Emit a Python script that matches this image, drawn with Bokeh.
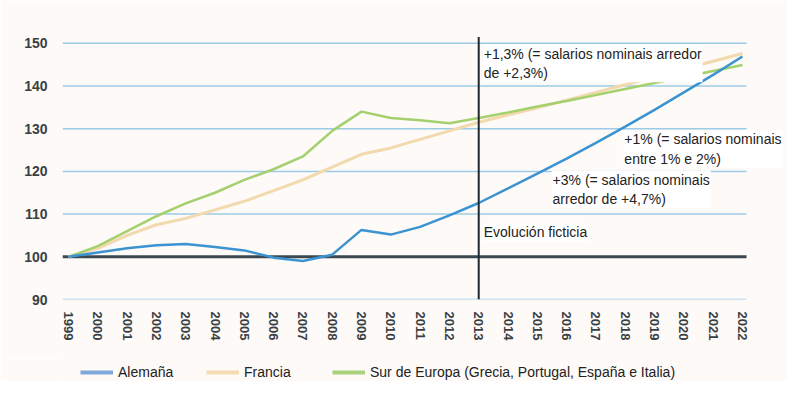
from bokeh.plotting import figure
from bokeh.models import (ColumnDataSource, Legend, LegendItem, Label, FixedTicker)
from bokeh.layouts import column
from bokeh.embed import file_html
from bokeh.resources import INLINE

years = list(range(1999, 2023))
alemana = [100, 101, 102, 102.7, 103, 102.3, 101.5, 99.8, 99, 100.5, 106.3, 105.2,
           107, 109.7, 112.6, 116.0, 119.5, 123.0, 126.7, 130.5, 134.4, 138.5, 142.6, 146.9]
francia = [100, 102, 105, 107.5, 109, 111, 113, 115.5, 118, 121, 124, 125.5,
           127.5, 129.5, 131.5, 133.2, 134.9, 136.7, 138.5, 140.3, 142.1, 144.0, 145.8, 147.6]
sur = [100, 102.5, 106, 109.5, 112.5, 115, 118, 120.5, 123.5, 129.5, 134, 132.5,
       132, 131.3, 132.5, 133.8, 135.2, 136.5, 137.9, 139.3, 140.7, 142.1, 143.5, 144.9]
y_ticks = [90, 100, 110, 120, 130, 140, 150]
grid_values = [90, 110, 120, 130, 140, 150]
base_value = 100
split_year = 2013
labels = ["Alemaña", "Francia", "Sur de Europa (Grecia, Portugal, España e Italia)"]
notes = [
    (2013, 149.6, "+1,3% (= salarios nominais arredor\nde +2,3%)"),
    (2017.8, 129.6, "+1% (= salarios nominais\nentre 1% e 2%)"),
    (2015.35, 120.2, "+3% (= salarios nominais\narredor de +4,7%)"),
    (2013, 107.8, "Evolución ficticia"),
]

FONT = "Liberation Sans"
BG = "#fdfaf8"

x_lo = years[0] - 0.205
x_hi = years[-1] + 0.14

p = figure(output_backend="svg", toolbar_location=None,
           x_range=(x_lo, 2023.47), y_range=(90, 153),
           frame_width=723, frame_height=269,
           min_border_left=62, min_border_right=2, min_border_top=30, min_border_bottom=60)
p.background_fill_color = BG
p.border_fill_color = BG
p.outline_line_color = None

p.xaxis.ticker = FixedTicker(ticks=years)
p.yaxis.ticker = FixedTicker(ticks=y_ticks)
for ax in (p.xaxis[0], p.yaxis[0]):
    ax.axis_line_color = None
    ax.major_tick_line_color = None
    ax.minor_tick_line_color = None
    ax.major_label_text_font = FONT
    ax.major_label_text_font_style = "bold"
    ax.major_label_text_color = "#3a3f44"
p.yaxis.major_label_text_font_size = "14px"
p.yaxis.major_label_standoff = 9
p.xaxis.major_label_text_font_size = "13px"
p.xaxis.major_label_orientation = "vertical"
p.xaxis.major_label_standoff = 6
p.xgrid.grid_line_color = None
p.ygrid.grid_line_color = None

n = len(grid_values)
p.segment(x0=[x_lo] * n, y0=grid_values, x1=[x_hi] * n, y1=grid_values,
          line_color="#9ccbe6", line_width=1.5)
p.segment(x0=[x_lo], y0=[base_value], x1=[x_hi], y1=[base_value],
          line_color="#3b4850", line_width=3)

src = ColumnDataSource(dict(x=years, a=alemana, f=francia, s=sur))
p.line("x", "f", source=src, line_color="#f2d9ae", line_width=3)
p.line("x", "s", source=src, line_color="#a4d06e", line_width=2.5)
p.line("x", "a", source=src, line_color="#3b93d1", line_width=2.5)

p.segment(x0=[split_year], y0=[90], x1=[split_year], y1=[151.5],
          line_color="#1f2a30", line_width=2)

for x, y, t in notes:
    p.add_layout(Label(x=x, y=y, text=t, x_offset=4, text_font=FONT,
                       text_font_size="14px", text_color="#222222",
                       text_baseline="top", text_line_height=1.2,
                       background_fill_color="white", background_fill_alpha=1.0,
                       padding=1))

# legend strip
lg = figure(output_backend="svg", toolbar_location=None, width=787, height=22,
            x_range=(0, 1), y_range=(0, 1), min_border=0)
lg.axis.visible = False
lg.grid.grid_line_color = None
lg.outline_line_color = None
lg.background_fill_color = BG
lg.border_fill_color = BG
nan = float("nan")
empty = ColumnDataSource(dict(x=[nan], y=[nan]))
ra = lg.line("x", "y", source=empty, line_color="#7fa7d8", line_width=4)
rf = lg.line("x", "y", source=empty, line_color="#f5dcb4", line_width=4)
rs = lg.line("x", "y", source=empty, line_color="#a9d27c", line_width=4)
legend = Legend(items=[LegendItem(label=labels[0], renderers=[ra]),
                       LegendItem(label=labels[1], renderers=[rf]),
                       LegendItem(label=labels[2], renderers=[rs])],
                orientation="horizontal", location=(18, 0),
                glyph_width=33, glyph_height=18, label_standoff=5, label_width=88,
                spacing=0, padding=0, margin=0, border_line_color=None,
                background_fill_alpha=0, label_height=18,
                label_text_font=FONT, label_text_font_size="14px",
                label_text_color="#222222")
lg.add_layout(legend, "center")

layout = column(p, lg, spacing=0)
open("out.html", "w").write(file_html(layout, INLINE))
